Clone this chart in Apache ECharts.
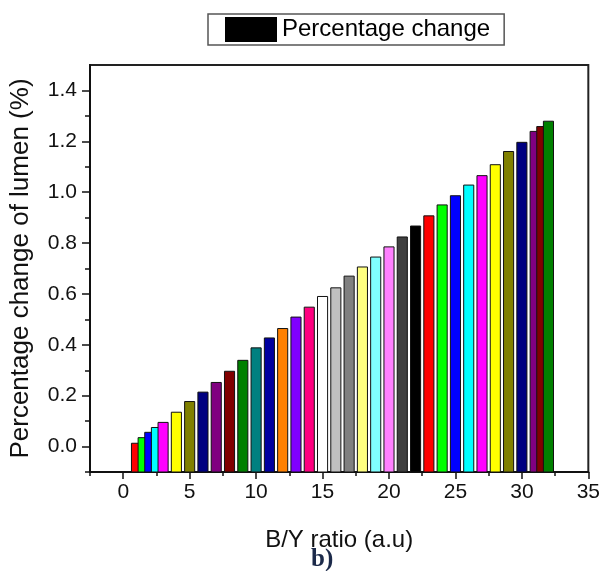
<!DOCTYPE html>
<html>
<head>
<meta charset="utf-8">
<script src="https://cdn.jsdelivr.net/npm/echarts@6/dist/echarts.min.js"></script>
<style>
html,body{margin:0;padding:0;background:#fff;}
#chart{width:603px;height:571px;}
</style>
</head>
<body>
<div id="chart"></div>
<script>
// B/Y ratio positions of the bars
const byRatio = [1, 1.5, 2, 2.5, 3, 4, 5, 6, 7, 8, 9, 10, 11, 12, 13, 14, 15, 16, 17, 18, 19, 20, 21, 22, 23, 24, 25, 26, 27, 28, 29, 30, 31, 31.5, 32];
// Percentage change of lumen (%)
const pctChange = [0.013, 0.035, 0.056, 0.075, 0.095, 0.135, 0.177, 0.214, 0.252, 0.296, 0.339, 0.388, 0.427, 0.464, 0.509, 0.548, 0.590, 0.624, 0.670, 0.706, 0.745, 0.785, 0.824, 0.867, 0.907, 0.950, 0.986, 1.028, 1.065, 1.108, 1.160, 1.196, 1.239, 1.258, 1.279];
// bar fill colours (Origin colour list)
const barColors = ['#FF0000','#00FF00','#0000FF','#00FFFF','#FF00FF','#FFFF00','#808000','#000080','#800080','#800000','#008000','#008080','#0000A0','#FF8000','#8000FF','#FF0080','#FFFFFF','#C0C0C0','#808080','#FFFF80','#80FFFF','#FF80FF','#404040','#000000','#FF0000','#00FF00','#0000FF','#00FFFF','#FF00FF','#FFFF00','#808000','#000080','#800080','#800000','#008000'];
// tick labels
const xMajorTicks = [0, 5, 10, 15, 20, 25, 30, 35];
const xMinorTicks = [-2.5, 2.5, 7.5, 12.5, 17.5, 22.5, 27.5, 32.5];
const yMajorTicks = [0, 0.2, 0.4, 0.6, 0.8, 1.0, 1.2, 1.4];
const yMinorTicks = [-0.1, 0.1, 0.3, 0.5, 0.7, 0.9, 1.1, 1.3];

const X_MIN = -2.5, X_MAX = 35, Y_MIN = -0.1, Y_MAX = 1.5;
const BAR_HALF = 0.38;
const FONT = '"Liberation Sans", Arial, sans-serif';

const chart = echarts.init(document.getElementById('chart'), null, {renderer: 'canvas'});

const data = byRatio.map((x, i) => [x, pctChange[i]]);

const axisLineStyle = {show: true, onZero: false, lineStyle: {color: '#111', width: 2}};

chart.setOption({
  animation: false,
  backgroundColor: '#fff',
  grid: {left: 90, right: 14, top: 65, bottom: 99, show: true, borderColor: '#222', borderWidth: 2, backgroundColor: 'transparent'},
  legend: {
    left: 208, top: 14,
    padding: [3, 14, 3, 17],
    itemWidth: 52, itemHeight: 25,
    borderColor: '#555', borderWidth: 1.5, borderRadius: 0,
    backgroundColor: '#fff',
    textStyle: {fontSize: 24, color: '#000', fontFamily: FONT},
    data: [{name: 'Percentage change', icon: 'rect', itemStyle: {color: '#000'}}]
  },
  xAxis: [{
    type: 'value', min: X_MIN, max: X_MAX, interval: 2.5,
    axisLine: axisLineStyle,
    splitLine: {show: false},
    axisTick: {show: true, inside: false, length: 7, customValues: xMajorTicks, lineStyle: {color: '#111', width: 1.5}},
    axisLabel: {customValues: xMajorTicks, margin: 10, fontSize: 21, color: '#111', fontFamily: FONT},
    name: 'B/Y ratio (a.u)', nameLocation: 'middle', nameGap: 56,
    nameTextStyle: {fontSize: 24, color: '#111', fontFamily: FONT}
  }, {
    type: 'value', min: X_MIN, max: X_MAX, interval: 2.5, position: 'bottom',
    axisLine: {show: false, onZero: false}, splitLine: {show: false},
    axisTick: {show: true, length: 4, customValues: xMinorTicks, lineStyle: {color: '#111', width: 1.5}},
    axisLabel: {show: false}
  }],
  yAxis: [{
    type: 'value', min: Y_MIN, max: Y_MAX, interval: 0.1,
    axisLine: axisLineStyle,
    splitLine: {show: false},
    axisTick: {show: true, length: 8, customValues: yMajorTicks, lineStyle: {color: '#111', width: 1.5}},
    axisLabel: {customValues: yMajorTicks, margin: 13, fontSize: 21, color: '#111', fontFamily: FONT,
      formatter: v => v.toFixed(1)},
    name: 'Percentage change of lumen (%)', nameLocation: 'middle', nameGap: 56,
    nameTextStyle: {fontSize: 26, color: '#111', fontFamily: FONT}
  }, {
    type: 'value', min: Y_MIN, max: Y_MAX, interval: 0.1, position: 'left',
    axisLine: {show: false, onZero: false}, splitLine: {show: false},
    axisTick: {show: true, length: 5, customValues: yMinorTicks, lineStyle: {color: '#111', width: 1.5}},
    axisLabel: {show: false}
  }],
  series: [{
    name: 'Percentage change',
    type: 'custom',
    xAxisIndex: 0, yAxisIndex: 0,
    itemStyle: {color: '#000'},
    data: data,
    encode: {x: 0, y: 1},
    renderItem: function (params, api) {
      const x = api.value(0), v = api.value(1);
      const p1 = api.coord([x - BAR_HALF, v]);
      const p2 = api.coord([x + BAR_HALF, Y_MIN]);
      return {
        type: 'rect',
        shape: {x: p1[0], y: p1[1], width: p2[0] - p1[0], height: p2[1] - p1[1]},
        style: {fill: barColors[params.dataIndex], stroke: '#111', lineWidth: 1}
      };
    }
  }],
  graphic: [{
    type: 'text', left: 311, top: 547,
    style: {text: 'b)', font: 'bold 25px "Liberation Serif", "Times New Roman", serif', fill: '#1c2a4a'}
  }]
});
</script>
</body>
</html>
